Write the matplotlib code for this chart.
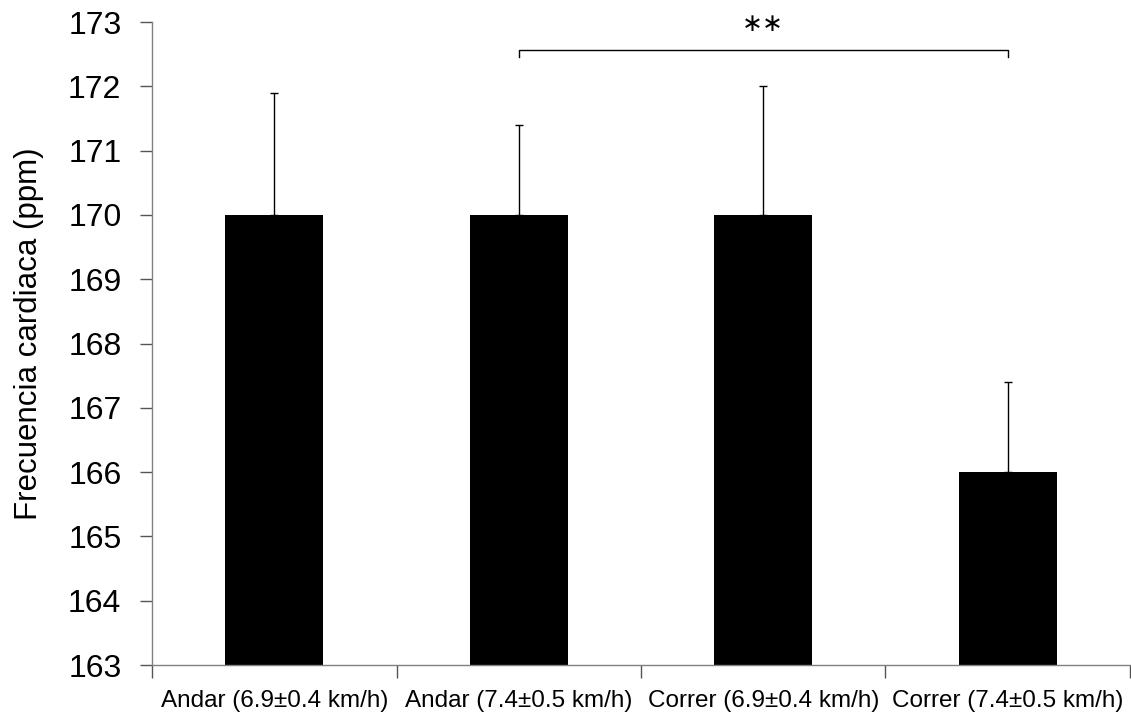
import matplotlib.pyplot as plt
import numpy as np

categories = ["Andar (6.9\u00b10.4 km/h)", "Andar (7.4\u00b10.5 km/h)",
              "Correr (6.9\u00b10.4 km/h)", "Correr (7.4\u00b10.5 km/h)"]
means = [170.0, 170.0, 170.0, 166.0]
err_up = [1.9, 1.4, 2.0, 1.4]
sig_pair = (1, 3)
sig_label = "\u2217\u2217"

plt.rcParams['font.family'] = ['Liberation Sans', 'DejaVu Sans']

fig = plt.figure(figsize=(11.31, 7.13), dpi=100)
ax = fig.add_axes([0.1344, 0.0673, 0.8647, 0.9018])

x = np.arange(len(categories))
ax.bar(x, means, width=0.4, color='black', zorder=2)
ax.errorbar(x, means, yerr=[np.zeros(len(means)), err_up], fmt='none',
            ecolor='black', elinewidth=1, capsize=3, capthick=1, zorder=1)

ax.set_xlim(-0.5, len(categories) - 0.5)
ax.set_ylim(163, 173)
ax.set_yticks(range(163, 174))
ax.tick_params(axis='y', labelsize=23, length=9, width=1, color='#555555', pad=13)
ax.set_xticks(np.arange(-0.5, len(categories), 1.0))
ax.set_xticklabels([])
ax.set_xticks(x, minor=True)
ax.set_xticklabels(categories, minor=True, fontsize=17.5)
ax.tick_params(axis='x', which='major', length=9, width=1, color='#555555')
ax.tick_params(axis='x', which='minor', length=0, pad=18)

for s in ['top', 'right']:
    ax.spines[s].set_visible(False)
for s in ['left', 'bottom']:
    ax.spines[s].set_color('#808080')
    ax.spines[s].set_linewidth(1)

ax.set_ylabel("Frecuencia cardiaca (ppm)", fontsize=22.5)
ax.yaxis.set_label_coords(-0.11, 0.515)

# significance bracket
y_br = 172.56
h = 0.11
x0, x1 = x[sig_pair[0]], x[sig_pair[1]]
ax.plot([x0, x0, x1, x1], [y_br - h, y_br, y_br, y_br - h], color='black', lw=1,
        clip_on=False)
ax.text((x0 + x1) / 2, y_br + 0.22, sig_label, ha='center', va='bottom',
        fontsize=18, family=['DejaVu Sans'])

fig.savefig("out.png", dpi=100)
